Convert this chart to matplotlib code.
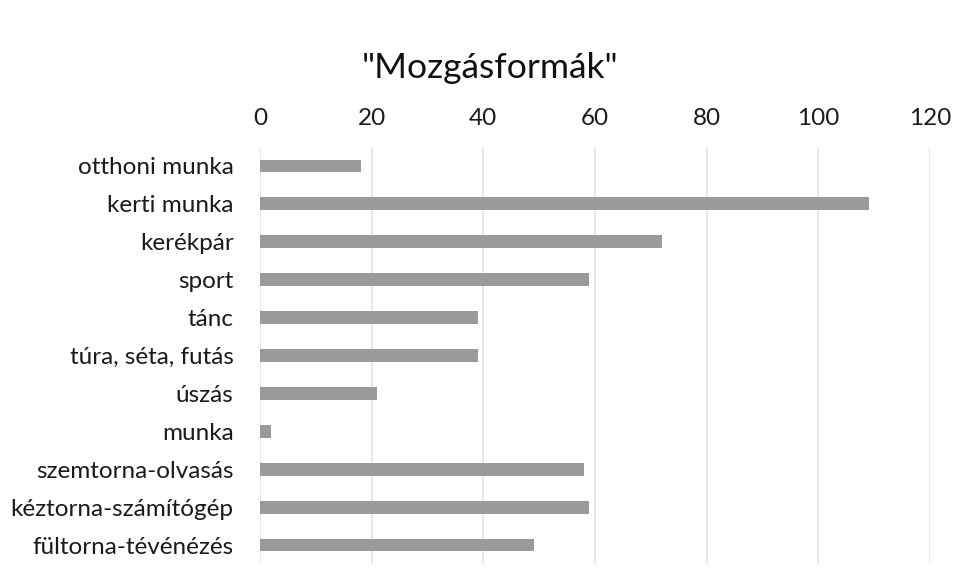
import matplotlib
matplotlib.use("Agg")
import matplotlib.pyplot as plt

categories = ["otthoni munka", "kerti munka", "kerékpár", "sport", "tánc",
              "túra, séta, futás", "úszás", "munka", "szemtorna-olvasás",
              "kéztorna-számítógép", "fültorna-tévénézés"]
values = [18, 109, 72, 59, 39, 39, 21, 2, 58, 59, 49]
xticks = [0, 20, 40, 60, 80, 100, 120]
title = '"Mozgásformák"'

plt.rcParams['font.family'] = ['Lato', 'DejaVu Sans']

W, H = 965, 587
fig = plt.figure(figsize=(W / 100, H / 100), dpi=100)
ax = fig.add_axes([260 / W, 1 - 564 / H, (930 - 260) / W, (564 - 147) / H])

ypos = list(range(len(categories)))
ax.barh(ypos, values, height=0.34, color="#9a9a9a", zorder=3)
ax.set_ylim(len(categories) - 0.5, -0.5)
ax.set_xlim(0, 120)
ax.set_xticks(xticks)
ax.set_xticklabels([str(t) for t in xticks])
ax.set_yticks(ypos)
ax.set_yticklabels(categories)
ax.xaxis.tick_top()
ax.tick_params(axis="both", length=0, labelsize=17.5, colors="#1a1a1a")
ax.tick_params(axis="x", pad=13)
ax.tick_params(axis="y", pad=19)
ax.grid(axis="x", color="#e3e3e3", linewidth=1.2, zorder=0)
for s in ax.spines.values():
    s.set_visible(False)

fig.text(490 / W, 1 - 68 / H, title, ha="center", va="center",
         fontsize=25.5, color="#111111")

fig.savefig("out.png", dpi=100, facecolor="white")
